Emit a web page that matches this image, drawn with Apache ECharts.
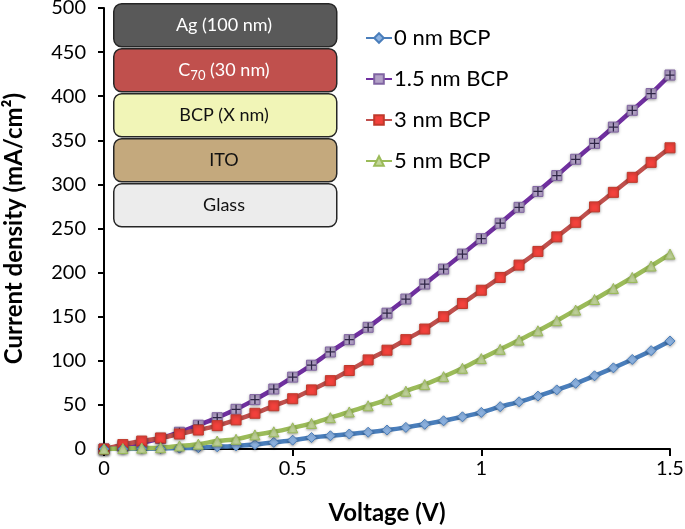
<!DOCTYPE html>
<html>
<head>
<meta charset="utf-8">
<script src="https://cdn.jsdelivr.net/npm/echarts@6/dist/echarts.min.js"></script>
<style>
  html, body { margin: 0; padding: 0; background: #fff; }
  #chart { width: 685px; height: 529px; }
</style>
</head>
<body>
<div id="chart"></div>
<script>
const voltage = [0, 0.05, 0.1, 0.15, 0.2, 0.25, 0.3, 0.35, 0.4, 0.45, 0.5, 0.55, 0.6, 0.65, 0.7, 0.75,
  0.8, 0.85, 0.9, 0.95, 1.0, 1.05, 1.1, 1.15, 1.2, 1.25, 1.3, 1.35, 1.4, 1.45, 1.5];

// current density, mA/cm2
const bcp0 = [0, 0, 0.2, 0.5, 1, 1.5, 2.5, 3.5, 5, 7.5, 10, 13, 15, 17, 19, 21.5,
  24.5, 28, 32, 36.5, 41.5, 48, 53.5, 60, 67, 74.5, 83, 92, 101.5, 111.5, 122.5];
const bcp15 = [0, 3, 7, 12, 19, 27, 35.5, 45, 56, 68, 81.5, 95, 110, 124, 138, 154,
  170, 187, 204, 221, 238.5, 256, 274, 292, 310, 328.5, 346.5, 365, 384, 403, 424];
const bcp3 = [0, 5, 9, 12.5, 17, 21.5, 26.5, 33, 40.5, 49, 57, 67, 77.5, 89, 101, 112,
  124, 136, 150, 165, 180, 194.5, 208.5, 224, 240.5, 257, 274.5, 291, 308, 325, 341.5];
const bcp5 = [0, 0.5, 1, 1.5, 3.5, 5.5, 9, 11, 16, 19.5, 24, 29, 35.5, 42, 49, 56,
  65.5, 73, 82, 91.5, 102.5, 113, 123.5, 134, 145.5, 157.5, 169.5, 182, 194.5, 207.5, 221];

const seriesNames = ['0 nm BCP', '1.5 nm BCP', '3 nm BCP', '5 nm BCP'];

// device stack shown in the inset, top to bottom
const layerNames = ['Ag (100 nm)', 'C70 (30 nm)', 'BCP (X nm)', 'ITO', 'Glass'];
const layerColors = ['#595959', '#c0504d', '#f1f5b7', '#c4a97d', '#ececec'];
const layerTextColors = ['#ffffff', '#ffffff', '#111111', '#111111', '#111111'];

const FONT = 'Lato, "Open Sans", sans-serif';

function pairs(ys) {
  return voltage.map((v, i) => [v, ys[i]]);
}

function lineSeries(name, ys, color, symbol, fill, border) {
  return {
    name: name,
    type: 'line',
    data: pairs(ys),
    smooth: 0.3,
    symbol: symbol,
    symbolSize: 10,
    showAllSymbol: true,
    lineStyle: { color: color, width: 4.5 },
    itemStyle: { color: fill, borderColor: border, borderWidth: 1,
      shadowColor: 'rgba(0,0,0,0.35)', shadowBlur: 3, shadowOffsetY: 1 },
    emphasis: { disabled: true },
    animation: false
  };
}

const graphics = [];
layerNames.forEach((name, i) => {
  const top = 3 + i * 45;
  graphics.push({
    type: 'rect',
    left: 113,
    top: top,
    shape: { width: 223, height: 43, r: 8 },
    style: { fill: layerColors[i], stroke: '#262626', lineWidth: 1.5 },
    z: 10
  });
  let text = name;
  let rich = {};
  if (name.indexOf('C70') === 0) {
    text = '{a|C}{s|70}{a|' + name.slice(3) + '}';
    rich = {
      a: { fontSize: 18, fontFamily: FONT, fill: layerTextColors[i] },
      s: { fontSize: 13, fontFamily: FONT, fill: layerTextColors[i], verticalAlign: 'bottom', padding: [0, 0, -3, 0] }
    };
  }
  graphics.push({
    type: 'text',
    x: 224,
    y: top + 22,
    style: {
      text: text,
      rich: rich,
      fill: layerTextColors[i],
      fontSize: 18,
      fontFamily: FONT,
      align: 'center',
      verticalAlign: 'middle'
    },
    z: 11
  });
});

const chart = echarts.init(document.getElementById('chart'));
chart.setOption({
  backgroundColor: '#fff',
  animation: false,
  grid: { left: 104, right: 15, top: 8, bottom: 80, outerBoundsMode: 'none' },
  legend: {
    data: seriesNames,
    orient: 'vertical',
    left: 360,
    top: 22,
    itemWidth: 26,
    itemHeight: 12,
    itemGap: 19,
    textStyle: { fontSize: 22, fontFamily: FONT, color: '#000', padding: [0, 0, 0, -3] }
  },
  xAxis: {
    type: 'value',
    min: 0,
    max: 1.5,
    interval: 0.5,
    name: 'Voltage (V)',
    nameLocation: 'middle',
    nameGap: 52,
    nameTextStyle: { fontSize: 24, fontWeight: 'bold', fontFamily: FONT, color: '#000' },
    axisLine: { show: true, onZero: false, lineStyle: { color: '#000', width: 2 } },
    axisTick: { show: true, length: 7, lineStyle: { color: '#000', width: 2 } },
    axisLabel: { fontSize: 20, fontFamily: FONT, color: '#000', margin: 10 },
    splitLine: { show: false }
  },
  yAxis: {
    type: 'value',
    min: 0,
    max: 500,
    interval: 50,
    name: 'Current density (mA/cm\u00b2)',
    nameLocation: 'middle',
    nameGap: 78,
    nameTextStyle: { fontSize: 24, fontWeight: 'bold', fontFamily: FONT, color: '#000' },
    axisLine: { show: true, lineStyle: { color: '#000', width: 2 } },
    axisTick: { show: true, length: 6, lineStyle: { color: '#000', width: 2 } },
    axisLabel: { fontSize: 20, fontFamily: FONT, color: '#000', margin: 18 },
    splitLine: { show: false }
  },
  series: [
    lineSeries('1.5 nm BCP', bcp15, '#7030a0', 'rect', '#b3a2c7', '#8064a2'),
    {
      // dark cross drawn over the purple square markers
      name: '1.5 nm BCP',
      type: 'line',
      data: pairs(bcp15),
      symbol: 'path://M4.3,0H5.7V4.3H10V5.7H5.7V10H4.3V5.7H0V4.3H4.3Z',
      symbolSize: 9,
      showAllSymbol: true,
      lineStyle: { width: 0, opacity: 0 },
      itemStyle: { color: '#2e2545' },
      emphasis: { disabled: true },
      animation: false
    },
    lineSeries('3 nm BCP', bcp3, '#c0504d', 'rect', '#f2423c', '#c0392b'),
    lineSeries('0 nm BCP', bcp0, '#4a7ebb', 'diamond', '#8db3e2', '#4a7ebb'),
    lineSeries('5 nm BCP', bcp5, '#9bbb59', 'triangle', '#c3d69b', '#9bbb59')
  ],
  graphic: graphics
});
</script>
</body>
</html>
